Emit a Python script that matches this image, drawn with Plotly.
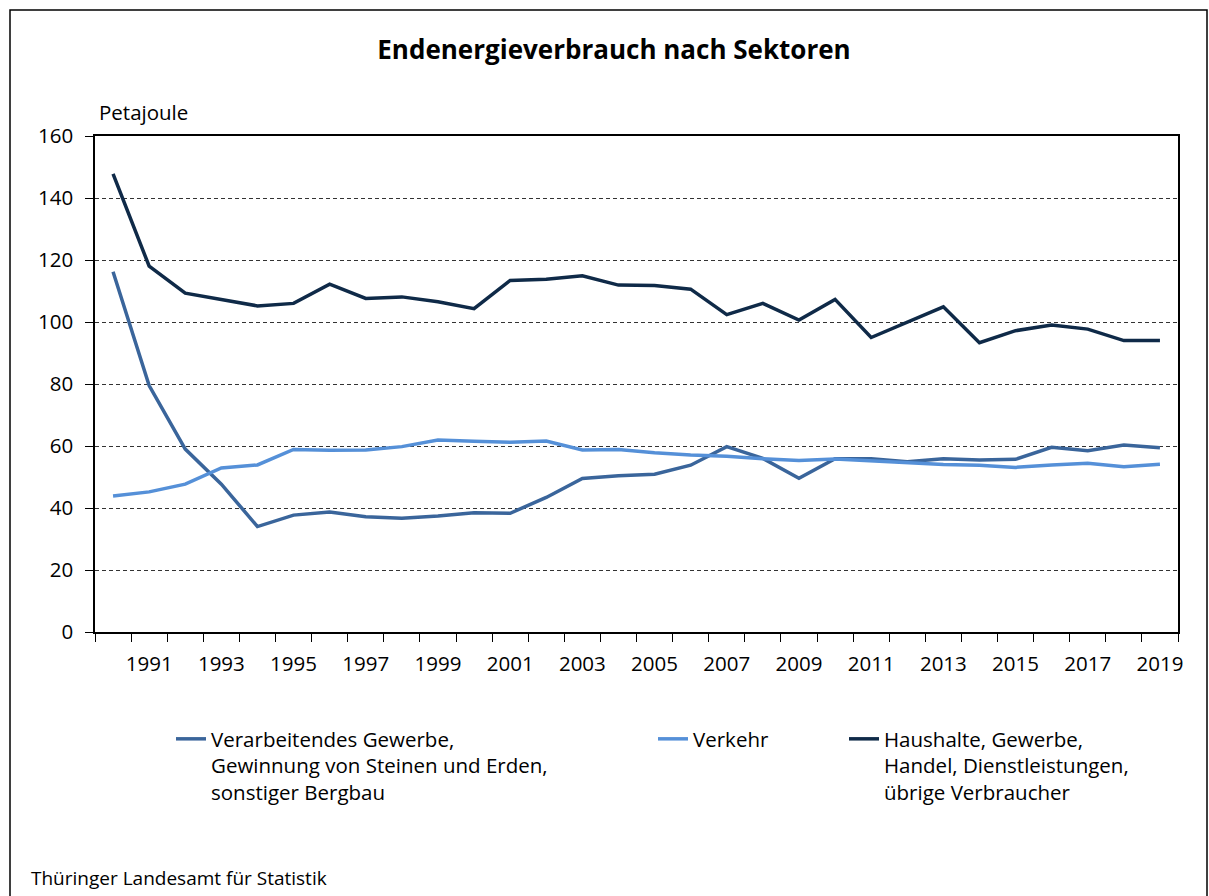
import plotly.graph_objects as go

years = list(range(1990, 2020))

verarbeitendes = [116.2, 79.5, 59.0, 47.7, 34.0, 37.7, 38.7, 37.2, 36.7, 37.4,
                  38.5, 38.3, 43.4, 49.5, 50.4, 50.9, 53.8, 59.8, 56.0, 49.6,
                  55.9, 55.9, 54.9, 55.9, 55.5, 55.7, 59.6, 58.5, 60.3, 59.4]

verkehr = [43.9, 45.2, 47.7, 52.9, 53.9, 58.9, 58.6, 58.7, 59.8, 61.9,
           61.5, 61.2, 61.6, 58.7, 58.9, 57.8, 57.1, 56.7, 55.9, 55.3,
           55.8, 55.2, 54.6, 54.0, 53.8, 53.1, 53.9, 54.4, 53.3, 54.1]

haushalte = [147.8, 118.0, 109.3, 107.3, 105.2, 106.0, 112.2, 107.6, 108.1, 106.5,
             104.3, 113.4, 113.8, 114.9, 111.9, 111.8, 110.6, 102.4, 106.0, 100.6,
             107.3, 95.0, 100.0, 104.9, 93.3, 97.2, 99.0, 97.7, 94.0, 94.0]

label_years = list(range(1991, 2020, 2))

names = [
    "Verarbeitendes Gewerbe,<br>Gewinnung von Steinen und Erden,<br>sonstiger Bergbau",
    "Verkehr",
    "Haushalte, Gewerbe,<br>Handel, Dienstleistungen,<br>übrige Verbraucher",
]
colors = ["#3a659b", "#5590d8", "#0f2a48"]
series = [verarbeitendes, verkehr, haushalte]
legends = ["legend", "legend2", "legend3"]

FONT = "Open Sans"
FS = 20.5

fig = go.Figure()
for nm, col, vals, lg in zip(names, colors, series, legends):
    fig.add_trace(go.Scatter(x=years, y=vals, mode="lines", name=nm,
                             line=dict(color=col, width=3.5), legend=lg))

W, H = 1209, 896
L, R, T, B = 95, 1178, 136, 632
pw, ph = R - L, B - T

def px(xp):
    return (xp - L) / pw

def py(yp):
    return (B - yp) / ph

leg_common = dict(orientation="v", yanchor="top", xanchor="left", valign="top",
                  font=dict(family=FONT, size=FS, color="#000"),
                  bgcolor="rgba(0,0,0,0)", borderwidth=0)

fig.update_layout(
    width=W, height=H,
    margin=dict(l=L, r=W - R, t=T, b=H - B),
    paper_bgcolor="white", plot_bgcolor="white",
    font=dict(family=FONT, size=FS, color="#000"),
    title=dict(text="<b>Endenergieverbrauch nach Sektoren</b>",
               x=px(614), xanchor="center", xref="paper", y=1 - 50 / H, yanchor="middle",
               font=dict(family=FONT, size=26, color="#000")),
    legend=dict(x=px(171), y=py(719), **leg_common),
    legend2=dict(x=px(653), y=py(719), **leg_common),
    legend3=dict(x=px(844), y=py(719), **leg_common),
    xaxis=dict(range=[1989.5, 2019.5], tickmode="array", tickvals=label_years,
               ticktext=[str(y) for y in label_years], ticks="", showgrid=False,
               showline=True, linecolor="#000", linewidth=1.5, mirror=True,
               zeroline=False, tickfont=dict(family=FONT, size=FS),
               minor=dict(ticks="outside", tick0=1989.5, dtick=1, ticklen=8,
                          tickcolor="#000", tickwidth=1, showgrid=False),
               ticklabelstandoff=13),
    yaxis=dict(range=[0, 160], dtick=20, ticks="outside", ticklen=8,
               tickcolor="#000", showgrid=True, gridcolor="#333",
               griddash="4px,3px", gridwidth=1, showline=True, linecolor="#000",
               linewidth=1.5, mirror=True, zeroline=False,
               tickfont=dict(family=FONT, size=FS), ticklabelstandoff=8),
    showlegend=True,
)

fig.add_annotation(text="Petajoule", xref="paper", yref="paper",
                   x=px(97), y=py(112), xanchor="left", yanchor="middle",
                   showarrow=False, font=dict(family=FONT, size=FS))
fig.add_annotation(text="Thüringer Landesamt für Statistik", xref="paper", yref="paper",
                   x=px(29), y=py(878), xanchor="left", yanchor="middle",
                   showarrow=False, font=dict(family=FONT, size=19))

fig.add_shape(type="rect", xref="paper", yref="paper",
              x0=px(10), x1=px(1207), y0=py(1000), y1=py(10),
              line=dict(color="#000", width=1.5), fillcolor="rgba(0,0,0,0)", layer="below")

fig.write_html("out.html", config={"displayModeBar": False},
               post_script="document.body.style.margin='0';document.body.style.overflow='hidden';")
